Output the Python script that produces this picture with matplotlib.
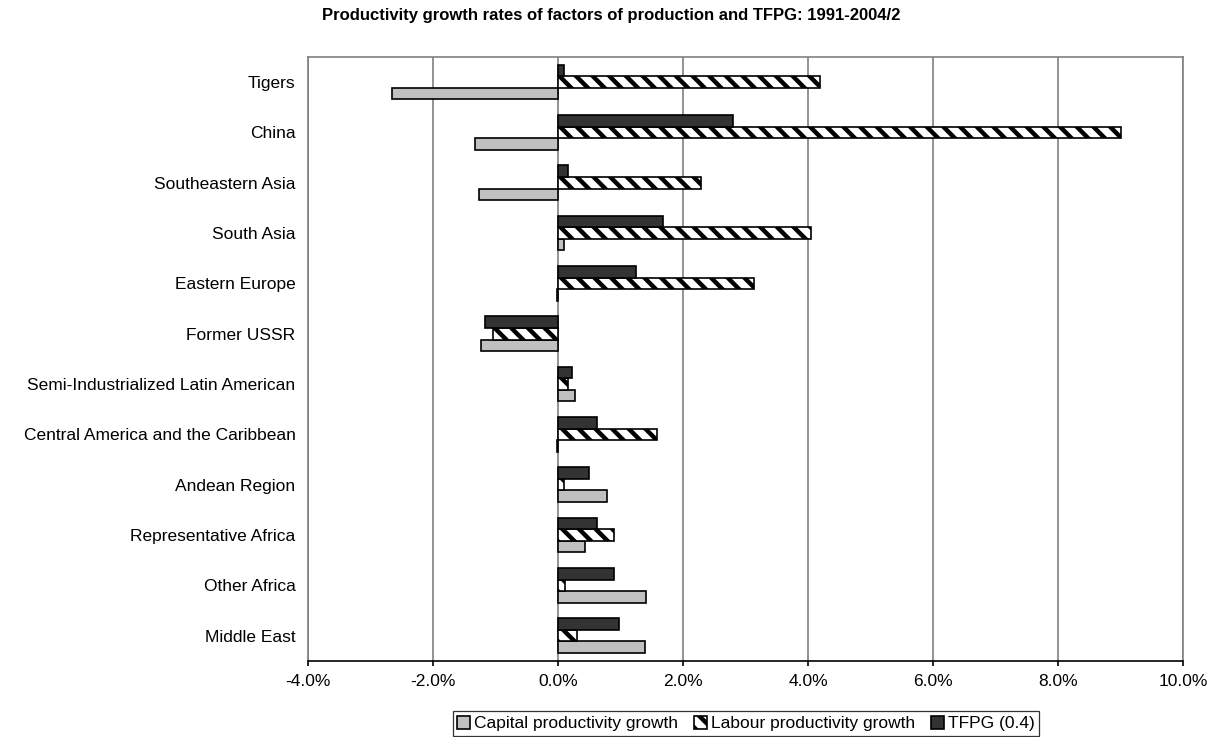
import matplotlib.pyplot as plt
import numpy as np
from matplotlib.ticker import FuncFormatter

plt.rcParams['font.family'] = ['Liberation Sans', 'DejaVu Sans']
plt.rcParams['hatch.linewidth'] = 3.2

regions = [
    "Tigers", "China", "Southeastern Asia", "South Asia", "Eastern Europe",
    "Former USSR", "Semi-Industrialized Latin American",
    "Central America and the Caribbean", "Andean Region",
    "Representative Africa", "Other Africa", "Middle East",
]
# growth rates in %
capital = [-2.66, -1.33, -1.27, 0.09, -0.02, -1.23, 0.27, -0.02, 0.78, 0.44, 1.41, 1.40]
labour = [4.20, 9.00, 2.29, 4.05, 3.13, -1.04, 0.16, 1.58, 0.09, 0.89, 0.11, 0.30]
tfpg = [0.10, 2.80, 0.16, 1.68, 1.25, -1.16, 0.23, 0.62, 0.50, 0.62, 0.89, 0.97]

fig = plt.figure(figsize=(12.23, 7.37), dpi=100)
ax = fig.add_axes([0.2518, 0.1034, 0.7155, 0.8193])

y = np.arange(len(regions))
h = 0.23
ax.barh(y + h, capital, height=h, color="#C0C0C0", edgecolor="black",
        linewidth=1.2, label="Capital productivity growth", zorder=3)
ax.barh(y, labour, height=h, color="white", edgecolor="black", hatch="\\\\",
        linewidth=1.2, label="Labour productivity growth", zorder=3)
ax.barh(y - h, tfpg, height=h, color="#333333", edgecolor="black",
        linewidth=1.2, label="TFPG (0.4)", zorder=3)

ax.set_ylim(11.5, -0.5)
ax.set_xlim(-4, 10)
ax.set_xticks(np.arange(-4, 10.1, 2))
ax.xaxis.set_major_formatter(FuncFormatter(lambda v, p: "%.1f%%" % v))
ax.set_yticks(y)
ax.set_yticklabels(regions, fontsize=12.5)
ax.tick_params(axis="x", labelsize=12.5, length=3.5, width=1.2, pad=6, direction="out")
ax.tick_params(axis="y", length=0, pad=9)
ax.xaxis.grid(True, color="#808080", linewidth=1.2, zorder=0)
for s in ax.spines.values():
    s.set_color("#808080")
    s.set_linewidth(1.2)
ax.spines["bottom"].set_color("black")
ax.spines["bottom"].set_zorder(4)

fig.text(0.5, 0.979, "Productivity growth rates of factors of production and TFPG: 1991-2004/2",
         ha="center", va="center", fontsize=12, fontweight="bold")

leg = fig.legend(loc="center", bbox_to_anchor=(0.61, 0.0183), ncol=3, fontsize=12.5,
                 frameon=True, fancybox=False, edgecolor="black", handlelength=0.75,
                 handleheight=0.75, handletextpad=0.25, columnspacing=0.9,
                 borderpad=0.25, borderaxespad=0)
leg.get_frame().set_linewidth(0.9)

fig.savefig("out.png", dpi=100)
